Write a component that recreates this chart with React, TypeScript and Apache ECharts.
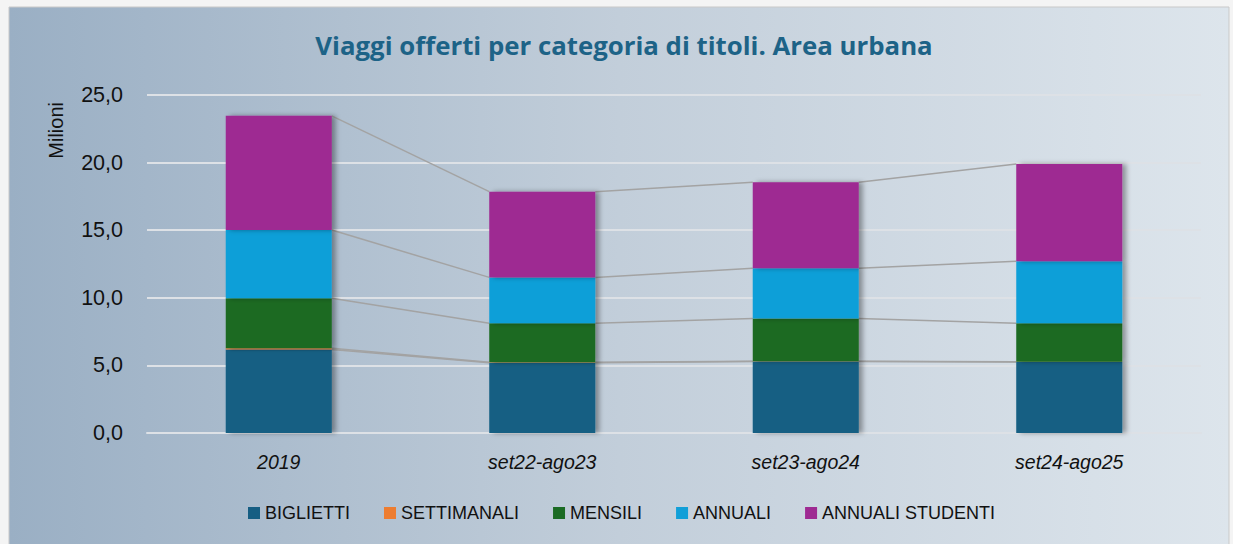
import React, { useEffect, useRef } from "react";
import * as echarts from "echarts";

const categories = ["2019", "set22-ago23", "set23-ago24", "set24-ago25"];
const biglietti = [6.18, 5.2, 5.28, 5.25];
const settimanali = [0.08, 0.03, 0.02, 0.02];
const mensili = [3.7, 2.88, 3.16, 2.84];
const annuali = [5.05, 3.4, 3.72, 4.59];
const annualiStudenti = [8.45, 6.34, 6.36, 7.2];
const yTicks = [0, 5, 10, 15, 20, 25];

const seriesNames = ["BIGLIETTI", "SETTIMANALI", "MENSILI", "ANNUALI", "ANNUALI STUDENTI"];
const seriesData = [biglietti, settimanali, mensili, annuali, annualiStudenti];
const colors = ["#165e83", "#ed7d31", "#1b6b24", "#119fd8", "#9e2a92"];

export default function App() {
  const ref = useRef<HTMLDivElement>(null);
  useEffect(() => {
    document.body.style.margin = "0";
    const chart = echarts.init(ref.current!, null, { renderer: "svg" });
    const cum: number[][] = [];
    let run = categories.map(() => 0);
    seriesData.forEach((arr) => {
      run = run.map((v, i) => v + arr[i]);
      cum.push(run.slice());
    });
    const barWidth = 106;
    const bars = seriesData.map((arr, k) => ({
      name: seriesNames[k],
      type: "bar",
      stack: "total",
      barWidth,
      data: arr,
      itemStyle: {
        color: colors[k],
        shadowColor: "rgba(0,0,0,0.35)",
        shadowBlur: 5,
        shadowOffsetX: 4,
        shadowOffsetY: 0,
      },
      z: 3,
    }));
    const option = {
      animation: false,
      backgroundColor: "transparent",
      color: colors,
      title: {
        text: "Viaggi offerti per categoria di titoli. Area urbana",
        left: 619,
        textAlign: "center",
        top: 27,
        textStyle: {
          fontFamily: "'Open Sans', 'Liberation Sans', sans-serif",
          fontSize: 25.8,
          fontWeight: "bold",
          color: "#1d6387",
        },
      },
      graphic: [
        {
          type: "rect",
          z: -10,
          shape: { x: 9, y: 7, width: 1220, height: 540 },
          style: {
            fill: new echarts.graphic.LinearGradient(0, 0, 1, 0, [
              { offset: 0, color: "#9aafc4" },
              { offset: 0.5, color: "#c2ceda" },
              { offset: 1, color: "#dde5ec" },
            ]),
            stroke: "#c9c9c9",
            lineWidth: 1,
          },
        },
        {
          type: "text",
          left: 46,
          top: 102,
          rotation: Math.PI / 2,
          style: {
            text: "Milioni",
            fontSize: 20,
            fontFamily: "'Liberation Sans', Arial, sans-serif",
            fill: "#111",
          },
        },
      ],
      legend: {
        data: seriesNames,
        left: 243,
        top: 499,
        width: 950,
        orient: "horizontal",
        itemWidth: 12,
        itemHeight: 12,
        itemGap: 34,
        icon: "rect",
        textStyle: {
          fontSize: 18,
          fontFamily: "'Liberation Sans', Arial, sans-serif",
          color: "#111",
        },
      },
      grid: { left: 147, right: 32, top: 95, bottom: 111 },
      xAxis: {
        type: "category",
        data: categories,
        axisLine: { show: true, lineStyle: { color: "#dde1e6", width: 2 } },
        axisTick: { show: false },
        axisLabel: {
          fontSize: 19.5,
          fontStyle: "italic",
          fontFamily: "'Liberation Sans', Arial, sans-serif",
          color: "#111",
          margin: 19,
        },
      },
      yAxis: {
        type: "value",
        min: yTicks[0],
        max: yTicks[yTicks.length - 1],
        interval: 5,
        axisLine: { show: false },
        axisTick: { show: false },
        splitLine: { lineStyle: { color: "#dde1e6", width: 2 } },
        axisLabel: {
          fontSize: 21.5,
          fontFamily: "'Liberation Sans', Arial, sans-serif",
          color: "#111",
          margin: 24,
          formatter: (v: number) => v.toFixed(1).replace(".", ","),
        },
      },
      series: [
        ...bars,
        {
          type: "custom",
          name: "seriesLines",
          silent: true,
          z: 2,
          data: categories.map((_, i) => [i]),
          renderItem: (params: any, api: any) => {
            const i = api.value(0);
            if (i >= categories.length - 1) return null;
            const children = cum.map((c) => {
              const p1 = api.coord([i, c[i]]);
              const p2 = api.coord([i + 1, c[i + 1]]);
              return {
                type: "line",
                shape: {
                  x1: p1[0] + barWidth / 2,
                  y1: p1[1],
                  x2: p2[0] - barWidth / 2,
                  y2: p2[1],
                },
                style: { stroke: "#a3a3a3", lineWidth: 1.5 },
              };
            });
            return { type: "group", children };
          },
        },
      ],
    };
    chart.setOption(option as any);
    return () => chart.dispose();
  }, []);
  return (
    <div
      ref={ref}
      style={{ position: "fixed", left: 0, top: 0, width: 1233, height: 544, background: "#f4f4f4" }}
    />
  );
}
